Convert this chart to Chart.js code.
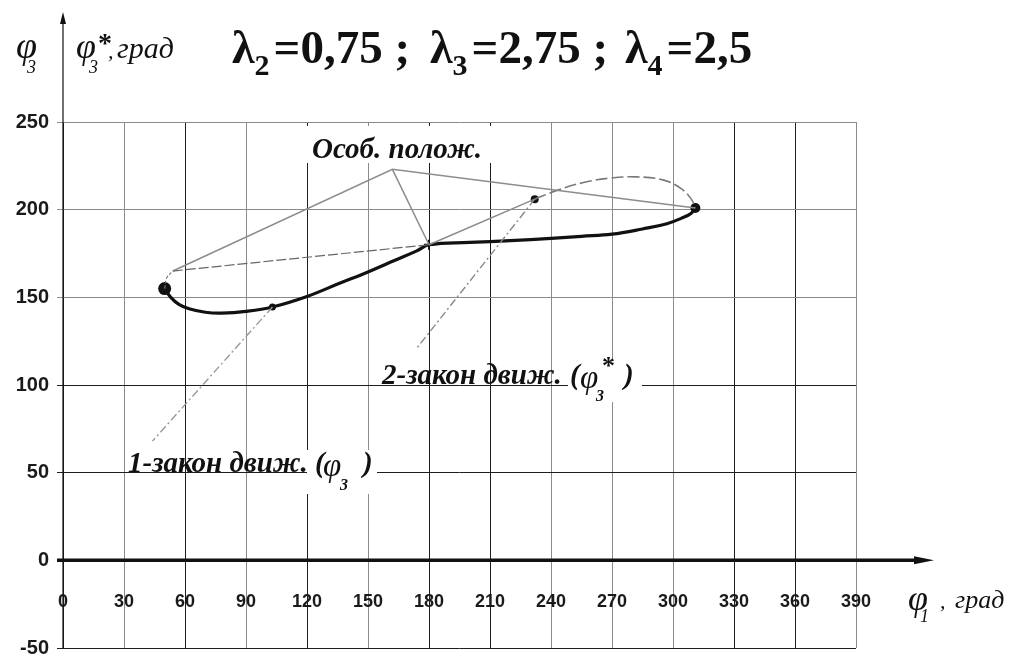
<!DOCTYPE html>
<html>
<head>
<meta charset="utf-8">
<script src="https://cdn.jsdelivr.net/npm/chart.js@4"></script>
<style>body{margin:0;background:#fff}</style>
</head>
<body>
<canvas id="chart" width="1013" height="668"></canvas>
<script>
// axes
const xTicks = [0, 30, 60, 90, 120, 150, 180, 210, 240, 270, 300, 330, 360, 390];
const yTicks = [-50, 0, 50, 100, 150, 200, 250];

// thick curve (result)
const mainX = [50, 53, 57, 62, 70, 78, 90, 103, 120, 136, 150, 163, 174, 180, 200, 220, 240, 255, 270, 285, 297, 305, 309, 311];
const mainY = [155, 150, 146, 143.5, 141.5, 141, 142, 144.5, 150.5, 158, 164.5, 171, 176.5, 180, 181.3, 182.3, 183.6, 184.8, 186, 189, 192, 195.5, 198, 201];

// grey construction lines
const hookX = [50, 51, 54];
const hookY = [155, 161, 165];
const lowX = [54, 180];
const lowY = [165, 180];
const upX = [54, 162, 311];
const upY = [165, 223, 201];
const apexX = [162, 180];
const apexY = [223, 180];
const riseX = [180, 232];
const riseY = [180, 206];
const loopX = [232, 243, 256, 269, 282, 295, 304, 309, 311];
const loopY = [206, 211, 215.5, 218, 218.7, 217, 212, 206, 201];
const law1X = [103, 44];
const law1Y = [144.5, 68];
const law2X = [232, 174];
const law2Y = [206, 121];

// marked points
const dotX = [50, 311, 232, 103];
const dotY = [155, 201, 206, 144.5];
const crossX = [180];
const crossY = [180];

const pts = (xs, ys) => xs.map((x, i) => ({x: x, y: ys[i]}));
const grey = '#8c8c8c';

const darkX = [0, 60, 120, 180, 210, 330, 360];
const darkY = [100, 50, -50];

function line(xs, ys, color, width, dash, tension) {
    return {
        data: pts(xs, ys), showLine: true, borderColor: color, borderWidth: width,
        borderDash: dash || [], tension: tension || 0, pointRadius: 0, fill: false
    };
}

function drawParts(ctx, x, y, parts) {
    parts.forEach(p => {
        ctx.font = p.font;
        ctx.fillText(p.t, x, y);
        x += ctx.measureText(p.t).width;
    });
    return x;
}

function whiteBox(ctx, x, y, w, h) {
    ctx.fillStyle = '#fff';
    ctx.fillRect(x, y, w, h);
}

const overlay = {
    id: 'overlay',
    beforeDatasetsDraw(chart) {
        const ctx = chart.ctx;
        ctx.save();
        whiteBox(ctx, 290, 126, 232, 37);
        whiteBox(ctx, 307, 450, 70, 44);
        whiteBox(ctx, 568, 360, 74, 42);
        ctx.restore();
    },
    afterDraw(chart) {
        const ctx = chart.ctx;
        const xs = chart.scales.x, ys = chart.scales.y;
        const x0 = xs.getPixelForValue(0);
        const y0 = ys.getPixelForValue(0);
        const yBottom = ys.getPixelForValue(-50);
        ctx.save();
        ctx.fillStyle = '#111';
        ctx.strokeStyle = '#111';

        // y axis with arrow
        ctx.lineWidth = 1.2;
        ctx.beginPath();
        ctx.moveTo(x0, yBottom);
        ctx.lineTo(x0, 20);
        ctx.stroke();
        ctx.beginPath();
        ctx.moveTo(x0, 12);
        ctx.lineTo(x0 - 3, 24);
        ctx.lineTo(x0 + 3, 24);
        ctx.closePath();
        ctx.fill();

        // x axis (zero line) with arrow
        ctx.lineWidth = 3.5;
        ctx.beginPath();
        ctx.moveTo(x0 - 6, y0);
        ctx.lineTo(922, y0);
        ctx.stroke();
        ctx.beginPath();
        ctx.moveTo(934, y0);
        ctx.lineTo(914, y0 - 4);
        ctx.lineTo(914, y0 + 4);
        ctx.closePath();
        ctx.fill();

        // x tick labels inside the plot
        ctx.font = 'bold 18px "Liberation Sans", Arial, sans-serif';
        ctx.textAlign = 'center';
        ctx.textBaseline = 'middle';
        ctx.fillStyle = '#1a1a1a';
        xTicks.forEach(v => ctx.fillText(String(v), xs.getPixelForValue(v), 602));

        ctx.textAlign = 'left';
        ctx.textBaseline = 'alphabetic';
        ctx.fillStyle = '#111';
        const serifI = (s, b) => (b ? 'italic bold ' : 'italic ') + s + 'px "Liberation Serif", "DejaVu Serif", serif';
        const serifB = s => 'bold ' + s + 'px "Liberation Serif", "DejaVu Serif", serif';

        // left axis caption
        drawParts(ctx, 16, 58, [{t: 'φ', font: serifI(38)}]);
        drawParts(ctx, 27, 73, [{t: '3', font: serifI(18)}]);
        // right axis caption
        drawParts(ctx, 76, 58, [{t: 'φ', font: serifI(36)}]);
        drawParts(ctx, 89, 73, [{t: '3', font: serifI(18)}]);
        drawParts(ctx, 98, 52, [{t: '*', font: serifB(28)}]);
        drawParts(ctx, 108, 58, [{t: ',', font: serifI(22)}]);
        drawParts(ctx, 117, 58, [{t: 'град', font: serifI(30)}]);

        // parameters
        const lam = (x, sub, rest) => {
            let p = drawParts(ctx, x, 63, [{t: 'λ', font: serifB(46)}]);
            p = drawParts(ctx, p, 75, [{t: sub, font: serifB(30)}]);
            drawParts(ctx, p + 4, 63, [{t: rest, font: serifB(47)}]);
        };
        lam(232, '2', '=0,75 ;');
        lam(430, '3', '=2,75 ;');
        lam(625, '4', '=2,5');

        // x axis caption
        drawParts(ctx, 908, 610, [{t: 'φ', font: serifI(36)}]);
        drawParts(ctx, 920, 622, [{t: '1', font: serifI(18)}]);
        drawParts(ctx, 940, 608, [{t: ',', font: serifI(22)}]);
        drawParts(ctx, 955, 608, [{t: 'град', font: serifI(26)}]);

        // annotations
        drawParts(ctx, 312, 158, [{t: 'Особ. полож.', font: serifI(29, true)}]);

        drawParts(ctx, 128, 472, [{t: '1-закон движ.', font: serifI(29, true)}]);
        drawParts(ctx, 315, 472, [{t: '(', font: serifI(29, true)}]);
        drawParts(ctx, 323, 476, [{t: 'φ', font: serifI(33)}]);
        drawParts(ctx, 340, 490, [{t: '3', font: serifI(16, true)}]);
        drawParts(ctx, 363, 472, [{t: ')', font: serifI(29, true)}]);

        drawParts(ctx, 382, 384, [{t: '2-закон движ.', font: serifI(29, true)}]);
        drawParts(ctx, 570, 384, [{t: '(', font: serifI(29, true)}]);
        drawParts(ctx, 580, 388, [{t: 'φ', font: serifI(33)}]);
        drawParts(ctx, 596, 401, [{t: '3', font: serifI(16, true)}]);
        drawParts(ctx, 602, 374, [{t: '*', font: serifB(26)}]);
        drawParts(ctx, 624, 384, [{t: ')', font: serifI(29, true)}]);
        ctx.restore();
    }
};

new Chart(document.getElementById('chart'), {
    type: 'scatter',
    data: {
        datasets: [
            line(lowX, lowY, '#666', 1.2, [10, 3]),
            line(upX, upY, grey, 1.5),
            line(apexX, apexY, grey, 1.5),
            line(hookX, hookY, '#777', 1.2, [3, 2], 0.4),
            line(riseX, riseY, grey, 1.5),
            line(loopX, loopY, '#7a7a7a', 1.6, [12, 4], 0.4),
            line(law1X, law1Y, '#999', 1.4, [8, 3, 2, 3]),
            line(law2X, law2Y, '#888', 1.4, [8, 3, 2, 3]),
            line(mainX, mainY, '#111', 3.2, [], 0.4),
            {
                data: pts(dotX, dotY), showLine: false, backgroundColor: '#111', borderColor: '#111',
                pointRadius: [6.5, 5, 4, 3.5], pointBorderWidth: 0
            },
            {
                data: pts(crossX, crossY), showLine: false, borderColor: '#111', pointStyle: 'cross',
                pointRadius: 5, pointBorderWidth: 2
            }
        ]
    },
    options: {
        responsive: false,
        animation: false,
        layout: {padding: {top: 122, right: 157, bottom: 8, left: 0}},
        plugins: {legend: {display: false}, tooltip: {enabled: false}},
        scales: {
            x: {
                type: 'linear', min: 0, max: 390,
                ticks: {display: false, stepSize: 30},
                afterBuildTicks: s => { s.ticks = xTicks.map(v => ({value: v})); },
                afterFit: s => { s.height = 0; },
                grid: {
                    drawTicks: false, lineWidth: 1,
                    color: c => darkX.includes(c.tick.value) ? '#1e1e1e' : '#8a8a8a'
                },
                border: {display: false}
            },
            y: {
                min: -50, max: 250,
                afterBuildTicks: s => { s.ticks = yTicks.map(v => ({value: v})); },
                afterFit: s => { s.width = 63; },
                ticks: {
                    color: '#1a1a1a', padding: 8,
                    font: {family: '"Liberation Sans", Arial, sans-serif', size: 20, weight: 'bold'}
                },
                grid: {
                    tickLength: 6, lineWidth: 1,
                    color: c => c.tick.value === 0 ? '#111' : (darkY.includes(c.tick.value) ? '#1e1e1e' : '#8a8a8a')
                },
                border: {display: false}
            }
        }
    },
    plugins: [overlay]
});
</script>
</body>
</html>
